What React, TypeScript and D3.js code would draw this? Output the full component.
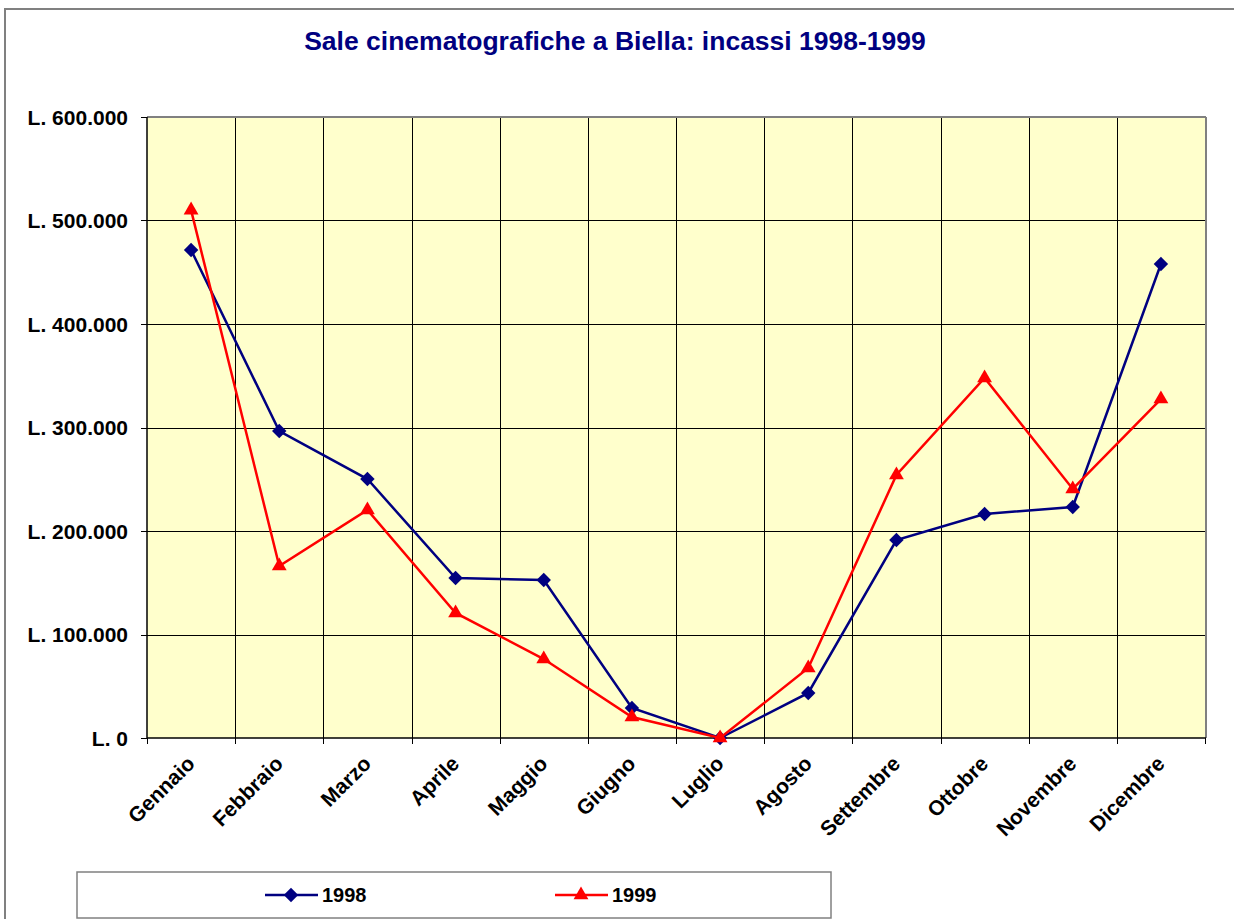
import { useMemo } from 'react'
import * as d3 from 'd3'

const MONTHS = ['Gennaio', 'Febbraio', 'Marzo', 'Aprile', 'Maggio', 'Giugno', 'Luglio', 'Agosto', 'Settembre', 'Ottobre', 'Novembre', 'Dicembre']
const INCASSI_1998 = [471500, 296600, 250200, 154600, 152700, 29000, 0, 43500, 191300, 216400, 223200, 458000]
const INCASSI_1999 = [510000, 166200, 220300, 120800, 76300, 20300, 0, 67600, 254100, 347800, 240600, 327500]
const Y_TICKS = [0, 100000, 200000, 300000, 400000, 500000, 600000]
const SERIES_NAMES = ['1998', '1999']

const TITLE = 'Sale cinematografiche a Biella: incassi 1998-1999'
const FONT = 'Arial, "Liberation Sans", Helvetica, sans-serif'

export default function App() {
  const width = 1234
  const height = 919
  const plot = { left: 147, right: 1205, top: 117, bottom: 738 }

  const { x, y } = useMemo(() => {
    const x = d3.scaleBand<string>()
      .domain(MONTHS)
      .range([plot.left, plot.right])
      .padding(0)
    const y = d3.scaleLinear()
      .domain([0, 600000])
      .range([plot.bottom, plot.top])
    return { x, y }
  }, [])

  const cx = (m: string) => (x(m) ?? 0) + x.bandwidth() / 2

  const line = d3.line<number>()
    .x((_, i) => cx(MONTHS[i]))
    .y(d => y(d))

  const diamond = d3.symbol().type(d3.symbolSquare).size(104)()
  const triangle = d3.symbol().type(d3.symbolTriangle).size(95)()

  // 'L. 600.000'
  const fmt = (v: number) => 'L. ' + (v === 0 ? '0' : d3.format(',')(v).replace(/,/g, '.'))

  const series = [
    { name: SERIES_NAMES[0], values: INCASSI_1998, color: '#000080', marker: 'diamond' },
    { name: SERIES_NAMES[1], values: INCASSI_1999, color: '#FF0000', marker: 'triangle' },
  ]

  const marker = (kind: string, color: string, px: number, py: number, key: string | number) =>
    kind === 'diamond'
      ? <path key={key} d={diamond!} transform={`translate(${px},${py}) rotate(45)`} fill={color} />
      : <path key={key} d={triangle!} transform={`translate(${px},${py})`} fill={color} />

  const bounds = [...MONTHS.map(m => x(m) ?? 0), plot.right]

  return (
    <svg width={width} height={height} style={{ position: 'absolute', left: 0, top: 0 }} fontFamily={FONT}>
      <rect x={0} y={0} width={width} height={height} fill="#fff" />

      {/* chart frame */}
      <rect x={5} y={9} width={1240} height={930} fill="none" stroke="#808080" strokeWidth={2} />

      <text x={615} y={50} textAnchor="middle" fontSize={26.5} fontWeight="bold" fill="#000080">
        {TITLE}
      </text>

      {/* plot area */}
      <rect x={plot.left} y={plot.top} width={plot.right - plot.left} height={plot.bottom - plot.top} fill="#FFFFCC" />

      {/* grid */}
      {Y_TICKS.slice(1, -1).map(t => (
        <line key={'h' + t} x1={plot.left} x2={plot.right} y1={Math.round(y(t)) + 0.5} y2={Math.round(y(t)) + 0.5} stroke="#000" strokeWidth={1} />
      ))}
      {bounds.slice(1, -1).map((b, i) => (
        <line key={'v' + i} x1={Math.round(b) + 0.5} x2={Math.round(b) + 0.5} y1={plot.top} y2={plot.bottom} stroke="#000" strokeWidth={1} />
      ))}

      {/* plot border top/right */}
      <line x1={plot.left} x2={plot.right + 1} y1={plot.top} y2={plot.top} stroke="#808080" strokeWidth={2} />
      <line x1={plot.right + 1} x2={plot.right + 1} y1={plot.top} y2={plot.bottom} stroke="#808080" strokeWidth={2} />

      {/* y axis */}
      <line x1={plot.left} x2={plot.left} y1={plot.top} y2={plot.bottom + 1} stroke="#000" strokeWidth={1.5} />
      {Y_TICKS.map(t => (
        <g key={'yt' + t}>
          <line x1={plot.left - 6} x2={plot.left} y1={Math.round(y(t)) + 0.5} y2={Math.round(y(t)) + 0.5} stroke="#000" />
          <text x={128} y={y(t)} dy="0.36em" textAnchor="end" fontSize={21} fontWeight="bold" fill="#000">
            {fmt(t)}
          </text>
        </g>
      ))}

      {/* x axis */}
      <line x1={plot.left} x2={plot.right + 1} y1={plot.bottom} y2={plot.bottom} stroke="#000" strokeWidth={1.5} />
      {bounds.map((b, i) => (
        <line key={'xt' + i} x1={Math.round(b) + 0.5} x2={Math.round(b) + 0.5} y1={plot.bottom} y2={plot.bottom + 6} stroke="#000" />
      ))}
      {MONTHS.map(m => (
        <text
          key={m}
          transform={`translate(${cx(m) + 5},${plot.bottom + 27}) rotate(-45)`}
          textAnchor="end"
          fontSize={21}
          fontWeight="bold"
          fill="#000"
        >
          {m}
        </text>
      ))}

      {/* series */}
      {series.map(s => (
        <g key={s.name}>
          <path d={line(s.values) ?? ''} fill="none" stroke={s.color} strokeWidth={2.5} />
          {s.values.map((v, i) => marker(s.marker, s.color, cx(MONTHS[i]), y(v), i))}
        </g>
      ))}

      {/* legend */}
      <rect x={77} y={872} width={754} height={46} fill="#fff" stroke="#808080" strokeWidth={1.5} />
      {series.map((s, i) => {
        const lx = 265 + i * 290
        return (
          <g key={'lg' + s.name}>
            <line x1={lx} x2={lx + 53} y1={895} y2={895} stroke={s.color} strokeWidth={2.5} />
            {marker(s.marker, s.color, lx + 26, 895, 'm')}
            <text x={lx + 57} y={895} dy="0.36em" fontSize={20} fontWeight="bold" fill="#000">
              {s.name}
            </text>
          </g>
        )
      })}
    </svg>
  )
}
